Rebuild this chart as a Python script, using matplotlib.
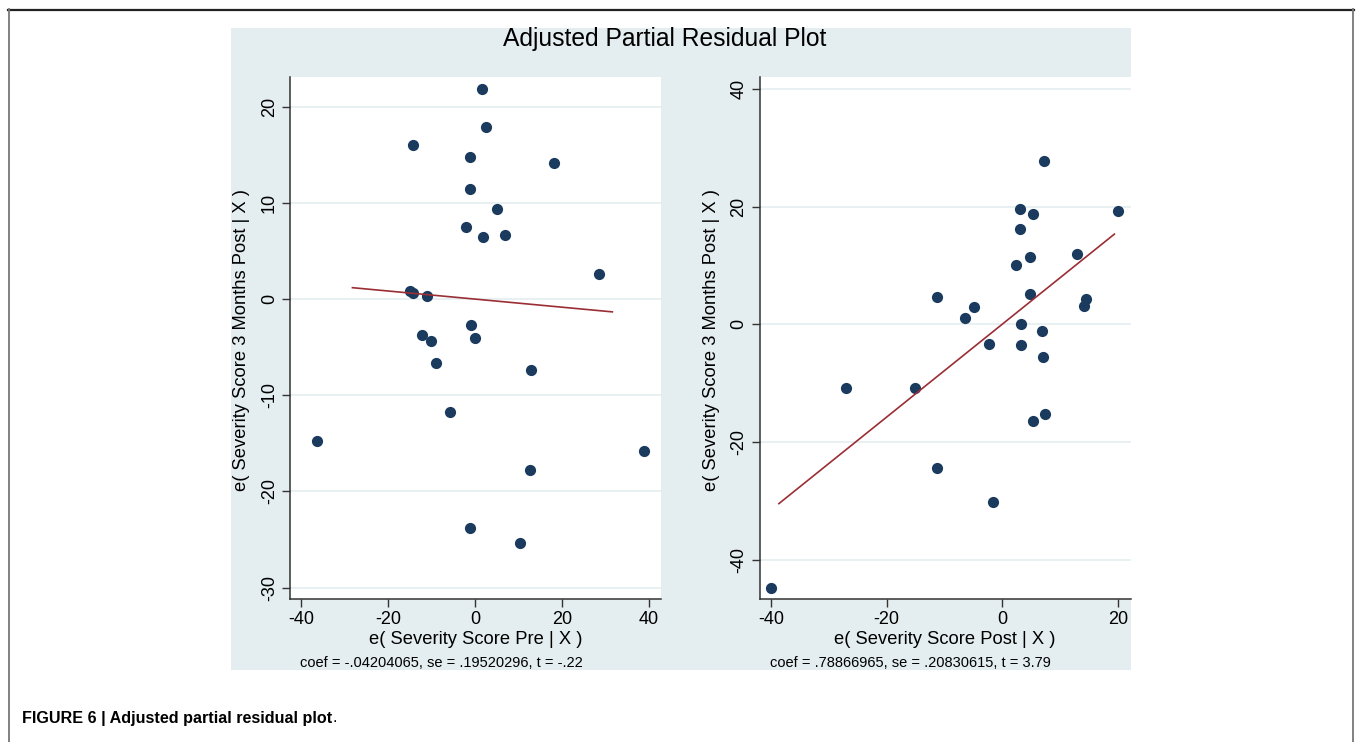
import matplotlib.pyplot as plt
from matplotlib.patches import Rectangle
from matplotlib.lines import Line2D

plt.rcParams['font.family'] = ['Liberation Sans', 'DejaVu Sans']
plt.rcParams['axes.unicode_minus'] = False

# left panel: e(Severity Score Pre | X) vs e(Severity Score 3 Months Post | X)
pre_x = [1.6, 2.6, -14.35, -1.2, 18.2, -1.15, 5.0, -2.07, 1.85, 6.84, 28.6, -15.05, -14.3,
         -11.0, -0.83, -12.1, -10.05, 0.0, -9.06, 12.9, -5.67, -36.3, 39.0, 12.76, -1.22, 10.45]
pre_y = [21.8, 17.85, 16.0, 14.8, 14.2, 11.4, 9.34, 7.47, 6.46, 6.7, 2.6, 0.84, 0.63,
         0.35, -2.67, -3.78, -4.37, -4.06, -6.67, -7.36, -11.73, -14.75, -15.8, -17.8, -23.75, -25.4]
pre_coef = -0.04204065
pre_line_x = [-28.2, 31.6]

# right panel: e(Severity Score Post | X)
post_x = [7.32, 3.11, 5.42, 20.07, 3.11, 12.9, 4.84, 2.42, -11.19, 4.79, 14.53, 14.24, -4.84,
          -6.46, 3.29, 6.87, -2.36, 3.23, 7.15, -27.0, -15.05, 7.38, 5.42, -11.19, -1.56, -40.02]
post_y = [27.7, 19.65, 18.69, 19.3, 16.25, 11.9, 11.44, 10.0, 4.7, 5.1, 4.25, 3.06, 2.94,
          1.12, 0.1, -1.14, -3.4, -3.46, -5.6, -10.77, -10.88, -15.19, -16.38, -24.36, -30.14, -44.76]
post_coef = 0.78866965
post_line_x = [-38.64, 19.43]

W, H = 1356, 742
fig = plt.figure(figsize=(W / 100, H / 100), dpi=100)

def fx(px): return px / W
def fy(py): return 1 - py / H

# outer frame of the figure box
fig.add_artist(Line2D([fx(8), fx(1354)], [fy(9.5), fy(9.5)], color='#222222', lw=1.6))
fig.add_artist(Line2D([fx(8.5), fx(8.5)], [fy(9), 0], color='#777777', lw=1.3))
fig.add_artist(Line2D([fx(1353), fx(1353)], [fy(9), 0], color='#777777', lw=1.3))

# stata background panel
fig.add_artist(Rectangle((fx(231), fy(670)), fx(1131) - fx(231), fy(28) - fy(670),
                         facecolor='#E4EDEF', edgecolor='none', zorder=0))

fig.text(fx(665), fy(39), 'Adjusted Partial Residual Plot', ha='center', va='center', fontsize=17.7)

def panel(rect, xs, ys, coef, line_x, xlim, ylim, xticks, yticks, xlabel, note, note_x, ylab_x):
    ax = fig.add_axes(rect)
    ax.set_facecolor('white')
    ax.grid(axis='y', color='#E4EDEF', lw=1.2)
    ax.set_axisbelow(True)
    ax.scatter(xs, ys, s=65, color='#1A3A5E', zorder=3, linewidths=0)
    ax.plot(line_x, [coef * v for v in line_x], color='#9B2E35', lw=1.2, zorder=4)
    ax.set_xlim(*xlim)
    ax.set_ylim(*ylim)
    ax.set_xticks(xticks)
    ax.set_yticks(yticks)
    for s in ['top', 'right']:
        ax.spines[s].set_visible(False)
    for s in ['left', 'bottom']:
        ax.spines[s].set_color('#333333')
        ax.spines[s].set_linewidth(1.1)
    ax.tick_params(length=6, width=1.0, color='#333333', labelsize=13, pad=3)
    for lab in ax.get_yticklabels():
        lab.set_rotation(90)
        lab.set_va('center')
    fig.text(fx(ylab_x), fy(340), 'e( Severity Score 3 Months Post | X )', rotation=90,
             ha='center', va='center', fontsize=13.2)
    cx = rect[0] + rect[2] / 2
    fig.text(cx, fy(639), xlabel, ha='center', va='center', fontsize=13.2)
    fig.text(fx(note_x), fy(663), note, ha='center', va='center', fontsize=10.5)
    return ax

panel([fx(290.3), fy(599), fx(661) - fx(290.3), fy(77) - fy(599)],
      pre_x, pre_y, pre_coef, pre_line_x, (-42.5, 42.8), (-31.18, 23.09),
      [-40, -20, 0, 20, 40], [-30, -20, -10, 0, 10, 20],
      'e( Severity Score Pre | X )', 'coef = -.04204065, se = .19520296, t = -.22', 441, 241)

panel([fx(759.7), fy(599), fx(1130.7) - fx(759.7), fy(77) - fy(599)],
      post_x, post_y, post_coef, post_line_x, (-41.96, 22.25), (-46.68, 42.02),
      [-40, -20, 0, 20], [-40, -20, 0, 20, 40],
      'e( Severity Score Post | X )', 'coef = .78866965, se = .20830615, t = 3.79', 910, 711)

cap = fig.text(fx(22), fy(718), 'FIGURE 6 | Adjusted partial residual plot', ha='left', va='center',
               fontsize=11.6, fontweight='bold')
bb = cap.get_window_extent(renderer=fig.canvas.get_renderer())
fig.text(fx(bb.x1 + 0.5), fy(718), '.', ha='left', va='center', fontsize=11.6)

fig.savefig('out.png', dpi=100)
